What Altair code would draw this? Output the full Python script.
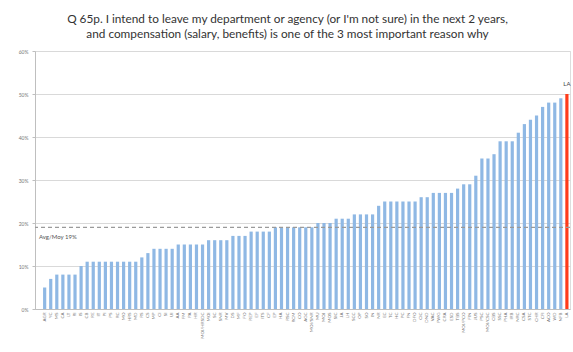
import altair as alt
import pandas as pd

TITLE = ["Q 65p. I intend to leave my department or agency (or I'm not sure) in the next 2 years,",
         "and compensation (salary, benefits) is one of the 3 most important reason why"]

labels = ["AGR", "YC", "MS", "CA", "LT", "RI", "IS", "CB", "RE", "IT", "PI", "PS", "RC", "MO",
          "HRS", "MD", "RS", "CS", "MP", "CI", "SI", "UI", "AA", "FM", "PA", "HR", "MOI/HRSDC",
          "MOI", "SC", "SNR", "MV", "DS", "MF", "FO", "REP", "EF", "ITS", "CF", "EP", "HA", "RSC",
          "RCM", "CO", "AGC", "MOI/SNR", "MU", "MOJ", "MOS", "SIC", "JA", "LH", "SCC", "OP", "SO",
          "IN", "NR", "EC", "TC", "HC", "PC", "FN", "DFO", "CIC", "DND", "VAC", "PWG", "CRA",
          "ESD", "TBS", "MOI/PCO", "FIN", "JUS", "PSC", "MOI/CSC", "CBS", "SSC", "PHA", "IRB",
          "NRC", "CSA", "STC", "CHR", "CFI", "ACO", "WD", "NFB", "LA"]

values = [5, 7, 8, 8, 8, 8, 10, 11, 11, 11, 11, 11, 11, 11, 11, 11, 12, 13, 14, 14, 14, 14,
          15, 15, 15, 15, 15, 16, 16, 16, 16, 17, 17, 17, 18, 18, 18, 18, 19, 19, 19, 19, 19,
          19, 19, 20, 20, 20, 21, 21, 21, 22, 22, 22, 22, 24, 25, 25, 25, 25, 25, 25, 26, 26,
          27, 27, 27, 27, 28, 29, 29, 31, 35, 35, 36, 39, 39, 39, 41, 43, 44, 45, 47, 48, 48,
          49, 50]

highlight = ["LA"]
AVG = [19]
AVG_LABEL = ["Avg/Moy 19%"]
Y_TICKS = [0, 10, 20, 30, 40, 50, 60]

df = pd.DataFrame({"label": labels, "value": values})
df["hl"] = df["label"].isin(highlight)
avg_df = pd.DataFrame({"avg": AVG, "text": AVG_LABEL})

FONT = "Lato"

x_enc = alt.X("label:N", sort=labels, title=None,
              scale=alt.Scale(paddingOuter=0.6, align=0.95),
              axis=alt.Axis(labelAngle=-90, labelFontSize=4.5, labelColor="#777777",
                            ticks=False, domainColor="#bfbfbf", labelPadding=3,
                            labelFont=FONT, labelOverlap=False))
y_scale = alt.Scale(domain=[0, 60], nice=False)

bars = alt.Chart(df).mark_bar(size=3.2).encode(
    x=x_enc,
    y=alt.Y("value:Q", scale=y_scale, title=None,
            axis=alt.Axis(values=Y_TICKS, labelExpr="datum.value + '%'", labelFontSize=5,
                          labelColor="#777777", gridColor="#d9d9d9", domainColor="#bfbfbf",
                          tickColor="#bfbfbf", tickSize=3, labelFont=FONT, labelPadding=4)),
    color=alt.condition(alt.datum.hl, alt.value("#ff3b1a"), alt.value("#8fb8e4")),
)

hl_text = alt.Chart(df).transform_filter(alt.datum.hl).mark_text(
    dy=-10, fontSize=6, color="#444444", font=FONT
).encode(x=alt.X("label:N", sort=labels), y=alt.Y("value:Q", scale=y_scale), text="label:N")

avg_rule = alt.Chart(avg_df).mark_rule(color="#9a9a9a", strokeDash=[4, 3], strokeWidth=1.2).encode(
    y=alt.Y("avg:Q", scale=y_scale)
)
avg_text = alt.Chart(avg_df).mark_text(
    align="left", dy=10, fontSize=6, color="#555555", font=FONT
).encode(x=alt.value(4), y=alt.Y("avg:Q", scale=y_scale), text="text:N")

chart = alt.layer(bars, avg_rule, avg_text, hl_text).properties(
    width=535, height=258,
    title=alt.TitleParams(text=TITLE, fontSize=11.8, font=FONT, fontWeight="normal",
                          color="#333333", anchor="middle", offset=8, dx=-15, lineHeight=15),
    autosize=alt.AutoSizeParams(type="none"),
    padding={"left": 35, "top": 51, "right": 3, "bottom": 43},
).configure_view(stroke=None).configure(background="white")

chart.save("out.html", embed_options={"renderer": "svg", "actions": False})
